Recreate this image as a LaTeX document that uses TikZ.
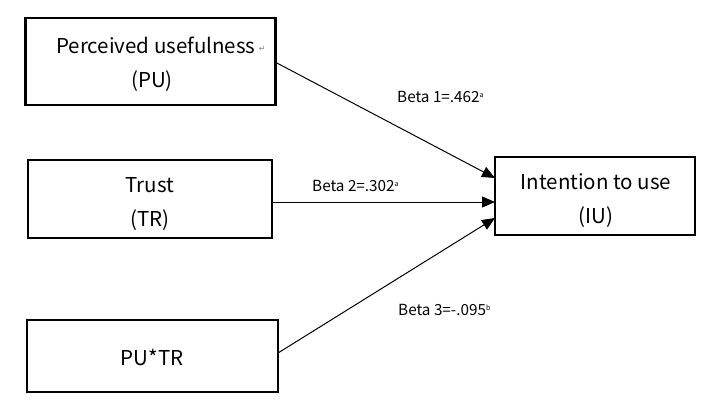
\documentclass[tikz,border=0pt]{standalone}
\usepackage{fontspec}
\setmainfont{Noto Sans CJK SC}
\newfontfamily\symfont{DejaVu Sans}
\usetikzlibrary{arrows.meta}
\begin{document}
\begin{tikzpicture}[x=1pt,y=-1pt,
  boxnode/.style={draw=black,line width=2.2pt,inner sep=0pt},
  txt/.style={inner sep=0pt,align=center,font=\fontsize{20.5}{34}\selectfont},
  conn/.style={draw=black,line width=1pt,-{Triangle[length=13pt,width=11pt]}},
  lbl/.style={font=\fontsize{15.3}{17}\selectfont,inner sep=0pt,anchor=west}]
\useasboundingbox (0,0) rectangle (728,400);
\node[boxnode,minimum width=250pt,minimum height=87pt] (pu) at (150.5,61.5) {};
\node[boxnode,minimum width=244pt,minimum height=78pt] (tr) at (150,199) {};
\node[boxnode,minimum width=251pt,minimum height=72pt] (ptr) at (152.5,356) {};
\node[boxnode,minimum width=200pt,minimum height=78pt] (iu) at (595,196) {};
\node[txt] (putxt) at (152,64) {\hspace*{18pt}Perceived usefulness\,{\symfont\fontsize{8}{8}\selectfont\color{gray}\raisebox{2pt}{↵}}\\(PU)};
\node[txt] (trtxt) at (150,204) {Trust\\(TR)};
\node[txt] (ptrtxt) at (152,357) {PU*TR};
\node[txt] (iutxt) at (596,201) {Intention to use\\(IU)};
\coordinate (a1s) at (275,62);
\coordinate (a1e) at (495,178);
\coordinate (a2s) at (272,202);
\coordinate (a2e) at (495,202);
\coordinate (a3s) at (278,353);
\coordinate (a3e) at (495,218);
\draw[conn] (a1s) -- (a1e);
\draw[conn] (a2s) -- (a2e);
\draw[conn] (a3s) -- (a3e);
\newcommand{\mysup}[1]{\raisebox{5.5pt}{\fontsize{7}{7}\selectfont #1}}
\node[lbl] (b1) at (397,97) {Beta 1=.462\mysup{a}};
\node[lbl] (b2) at (312,186) {Beta 2=.302\mysup{a}};
\node[lbl] (b3) at (398,310) {Beta 3=-.095\mysup{b}};
\end{tikzpicture}
\end{document}
